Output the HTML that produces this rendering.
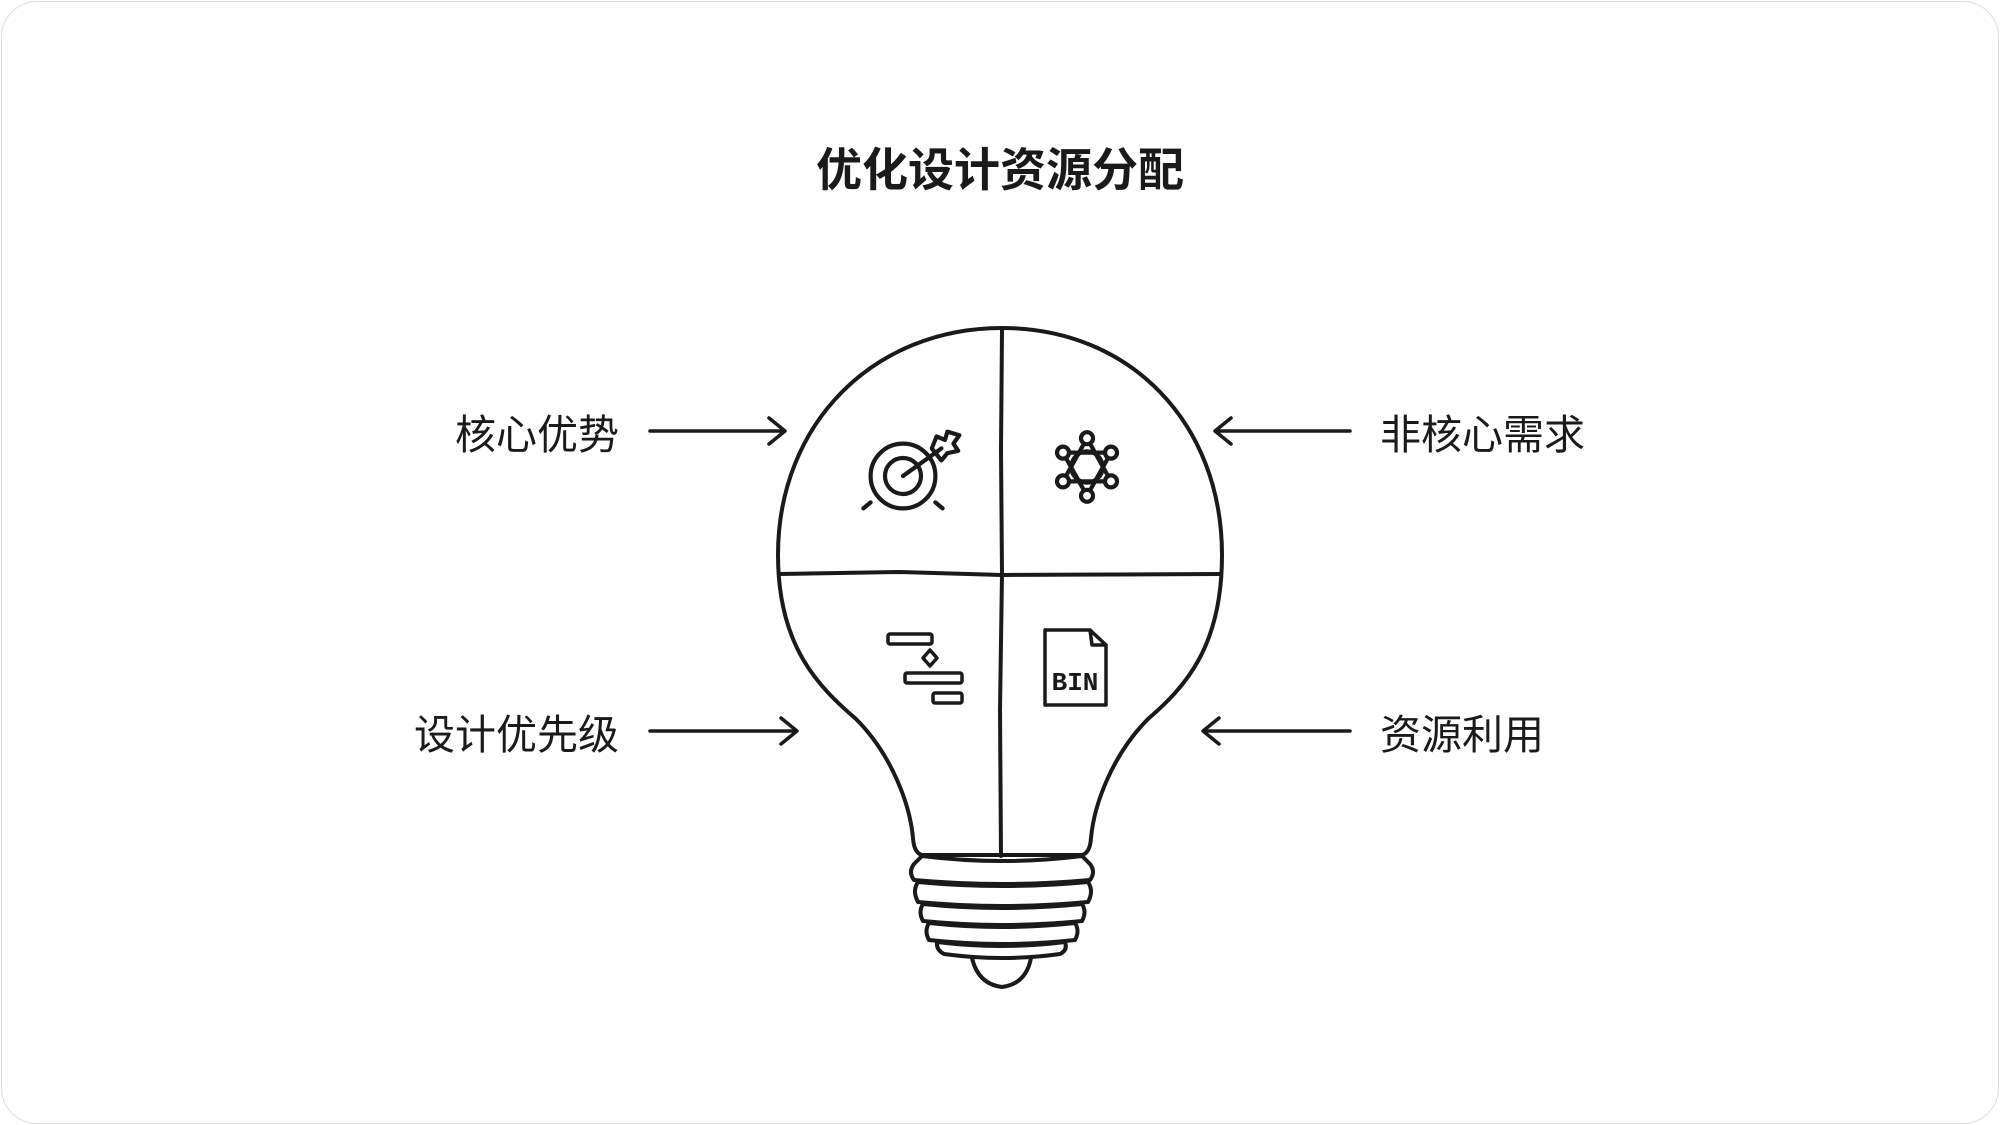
<!DOCTYPE html>
<html><head><meta charset="utf-8"><style>
html,body{margin:0;padding:0;background:#fff;}
body{width:2000px;height:1125px;position:relative;overflow:hidden;font-family:"Liberation Sans","Noto Sans CJK SC",sans-serif;color:#1a1a1a;}
.frame{position:absolute;left:1px;top:1px;width:1996px;height:1121px;border:1px solid #ddd;border-radius:36px;}
.t{position:absolute;white-space:nowrap;}
</style></head><body>
<div class="frame"></div>
<div class="t" style="left:0;width:2000px;text-align:center;top:134px;font-size:46px;font-weight:bold;">优化设计资源分配</div>
<div class="t" style="right:1381px;top:401px;font-size:41px;">核心优势</div>
<div class="t" style="right:1381px;top:701px;font-size:41px;">设计优先级</div>
<div class="t" style="left:1380px;top:401px;font-size:41px;">非核心需求</div>
<div class="t" style="left:1380px;top:701px;font-size:41px;">资源利用</div>
<svg width="2000" height="1125" style="position:absolute;left:0;top:0" fill="none" stroke="#1a1a1a" stroke-linecap="round" stroke-linejoin="round">
<g stroke-width="3.5">
<path d="M650,431 L783,431 M769,418 L785,431 L769,444"/>
<path d="M650,731 L795,731 M781,718 L797,731 L781,744"/>
<path d="M1350,431 L1217,431 M1231,418 L1215,431 L1231,444"/>
<path d="M1350,731 L1205,731 M1219,718 L1203,731 L1219,744"/>
</g>
<g stroke-width="4">
<path d="M1002,328 C1130,328 1222,423 1222,555 C1222,647 1185,687 1148,719 C1112,755 1094,805 1091,838 Q1090,853 1082,855 L922,855 Q914,853 913,838 C910,805 892,755 856,719 C819,687 778,647 778,555 C778,423 874,328 1002,328 Z"/>
<path d="M1002,330 L1001,450 L1002,574 L1000,710 L1001,856"/>
<path d="M780,574 L900,572 L1002,575 L1220,574"/>
<path d="M922,856 Q1002,866 1082,856 L1090,864 Q1096,872 1090,880 Q1002,888 914,880 Q908,872 914,864 Z"/>
<path d="M918,882 Q1002,890 1088,882 Q1094,891 1088,902 Q1002,910 918,902 Q912,891 918,882 Z"/>
<path d="M923,904 Q1002,912 1082,904 Q1087,912 1082,921 Q1002,929 923,921 Q918,912 923,904 Z"/>
<path d="M929,923 Q1002,931 1075,923 Q1080,931 1075,940 Q1002,948 929,940 Q924,931 929,923 Z"/>
<path d="M937,942 Q1002,950 1065,942 Q1068,950 1060,954 Q1002,962 944,954 Q936,950 937,942 Z"/>
<path d="M972,958 Q978,984 1002,987 Q1026,984 1031,958"/>
</g>
<g stroke-width="3.5">
<g transform="translate(903,476) scale(1.2) translate(-903,-441)">
<circle cx="903" cy="441" r="27"/><circle cx="903" cy="441" r="15"/>
<path d="M903,441 L935,418 M876,463 L870,468 M930,463 L936,468"/>
<path d="M927,418 L931,408 L938,411 L940,404 L950,407 L945,414 L949,420 L940,422 L935,428 Z"/>
</g>
<g transform="translate(1087,467) scale(1.2) translate(-1087,-433)">
<circle cx="1087" cy="433" r="13"/>
<path d="M1087,409 L1107,445 L1067,445 Z M1087,457 L1067,421 L1107,421 Z"/>
<g fill="#fff"><circle cx="1087" cy="409" r="5"/><circle cx="1087" cy="457" r="5"/><circle cx="1067" cy="421" r="5"/><circle cx="1107" cy="421" r="5"/><circle cx="1067" cy="445" r="5"/><circle cx="1107" cy="445" r="5"/></g>
</g>
<rect x="888" y="634" width="44" height="10" rx="2"/>
<path d="M930,650 L937,658 L930,666 L923,658 Z"/>
<rect x="905" y="673" width="57" height="10" rx="2"/>
<rect x="933" y="693" width="29" height="10" rx="2"/>
<path d="M1045,630 L1090,630 L1106,645 L1106,705 L1045,705 Z M1090,630 L1092,645 L1106,645"/>
</g>
<text x="1075" y="690" font-family="Liberation Mono,monospace" font-weight="bold" font-size="26" fill="#1a1a1a" stroke="none" text-anchor="middle">BIN</text>
</svg>
</body></html>
